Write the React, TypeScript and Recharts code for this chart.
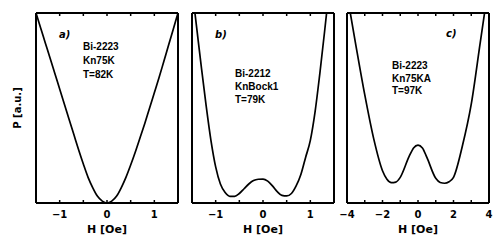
import { Line, LineChart, XAxis, YAxis } from 'recharts';

// field grid for panels a) and b), in Oe
const hAB = [
  -1.5, -1.4, -1.3, -1.2, -1.1, -1.0, -0.9, -0.8, -0.7, -0.6, -0.5, -0.4, -0.3, -0.2, -0.1, 0,
  0.1, 0.2, 0.3, 0.4, 0.5, 0.6, 0.7, 0.8, 0.9, 1.0, 1.1, 1.2, 1.3, 1.4, 1.5,
];
const pA = [
  100, 92, 84, 76, 68, 60, 52, 44, 36, 28, 20.5, 13.5, 8, 3.5, 1, 0,
  1, 3.5, 8, 13.5, 20, 27, 34.5, 42, 50, 58, 66, 74.5, 83, 91.5, 100,
];
const pB = [
  113, 92, 71, 51, 33, 19, 10, 5.5, 3.5, 3.5, 5, 7.5, 10, 11.8, 12.5, 12.6,
  11.5, 9, 6, 4, 3.7, 5, 9, 15, 24, 33, 48, 68, 90, 113, 135,
];

// panel c)
const hC = [-4, -3.5, -3, -2.5, -2, -1.75, -1.5, -1.25, -1, -0.5, -0.25, 0, 0.25, 0.5, 1, 1.25, 1.5, 1.75, 2, 2.5, 3, 3.5, 4];
const pC = [110, 83, 57, 34, 17, 12.5, 10.7, 11, 13.5, 24.5, 29, 30.5, 29, 24, 13, 10.8, 10.4, 11.2, 13.5, 30, 52, 84, 116];

const labelsAB = [-1, 0, 1];
const marksAB = [-1, -0.5, 0, 0.5, 1];
const labelsC = [-4, -2, 0, 2, 4];
const marksC = [-3, -2, -1, 0, 1, 2, 3];

const tagA = ['Bi-2223', 'Kn75K', 'T=82K'];
const tagB = ['Bi-2212', 'KnBock1', 'T=79K'];
const tagC = ['Bi-2223', 'Kn75KA', 'T=97K'];

const frame = { stroke: '#000', strokeWidth: 2 };
const font = 'DejaVu Sans';
const noteFont = 'Liberation Sans';
const blank = () => '';

function Panel({ h, p, domain, labels, marks, left }: any) {
  const data = h.map((x: number, i: number) => ({ h: x, p: p[i] }));
  return (
    <div style={{ position: 'absolute', left, top: 0 }}>
      <LineChart width={158} height={240} data={data} margin={{ top: 13, right: 8, bottom: 0, left: 8 }}>
        <XAxis
          dataKey="h"
          type="number"
          domain={domain}
          ticks={labels}
          interval={0}
          allowDataOverflow
          height={37}
          axisLine={frame}
          tickLine={false}
          tick={{ fill: '#000', fontSize: 10, fontWeight: 'bold', fontFamily: font }}
          tickFormatter={(v: number) => String(v).replace('-', '−')}
          label={{ value: 'H [Oe]', position: 'insideBottom', offset: 7, fill: '#000', fontSize: 11, fontWeight: 'bold', fontFamily: font }}
        />
        <XAxis xAxisId="top" dataKey="h" orientation="top" type="number" domain={domain} ticks={marks} interval={0} allowDataOverflow
          height={1} mirror axisLine={frame} tickLine={{ stroke: '#000', strokeWidth: 1.5 }} tickSize={3} tickFormatter={blank} />
        <XAxis xAxisId="in" dataKey="h" orientation="bottom" type="number" domain={domain} ticks={marks} interval={0} allowDataOverflow
          height={1} mirror axisLine={false} tickLine={{ stroke: '#000', strokeWidth: 1.5 }} tickSize={3} tickFormatter={blank} />
        <YAxis type="number" domain={[0, 100]} allowDataOverflow width={1} mirror tick={false} tickLine={false} axisLine={frame} />
        <YAxis yAxisId="r" orientation="right" type="number" domain={[0, 100]} allowDataOverflow width={1} mirror tick={false} tickLine={false} axisLine={frame} />
        <Line dataKey="p" type="monotone" stroke="#000" strokeWidth={1.7} dot={false} isAnimationActive={false} />
      </LineChart>
    </div>
  );
}

function Note({ x, y, step, lines }: any) {
  return (
    <text x={x} y={y} fontSize={10} fontWeight="bold" fontFamily={noteFont} fill="#000">
      {lines.map((s: string, i: number) => (
        <tspan key={i} x={x} dy={i === 0 ? 0 : step}>{s}</tspan>
      ))}
    </text>
  );
}

export default function App() {
  return (
    <div style={{ position: 'absolute', left: 0, top: 0, width: 498, height: 240, background: '#fff' }}>
      <Panel h={hAB} p={pA} domain={[-1.5, 1.5]} labels={labelsAB} marks={marksAB} left={28} />
      <Panel h={hAB} p={pB} domain={[-1.5, 1.5]} labels={labelsAB} marks={marksAB} left={184} />
      <Panel h={hC} p={pC} domain={[-4, 4]} labels={labelsC} marks={marksC} left={339} />
      <svg width={498} height={240} style={{ position: 'absolute', left: 0, top: 0, pointerEvents: 'none' }}>
        <text x={17} y={108} transform="rotate(-90 17 108)" textAnchor="middle" dominantBaseline="central"
          fontSize={10} fontWeight="bold" fontFamily={font} fill="#000">P [a.u.]</text>
        <text x={59} y={38} fontSize={10} fontWeight="bold" fontStyle="italic" fontFamily={font} fill="#000">a)</text>
        <text x={215} y={38} fontSize={10} fontWeight="bold" fontStyle="italic" fontFamily={font} fill="#000">b)</text>
        <text x={446} y={37} fontSize={10} fontWeight="bold" fontStyle="italic" fontFamily={font} fill="#000">c)</text>
        <Note x={83} y={50} step={14} lines={tagA} />
        <Note x={235} y={77} step={12.8} lines={tagB} />
        <Note x={392} y={69} step={12.5} lines={tagC} />
      </svg>
    </div>
  );
}
